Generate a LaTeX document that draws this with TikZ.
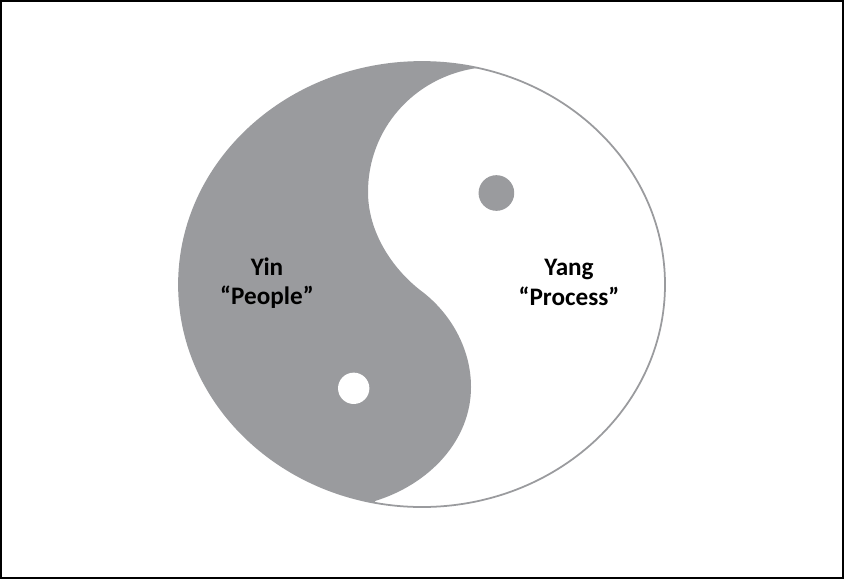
\documentclass[tikz,border=0pt]{standalone}
\usepackage{fontspec}
\setmainfont{Carlito}
\usetikzlibrary{calc}
\definecolor{yingray}{HTML}{9A9B9E}
\tikzset{
    yinlabel/.style={align=center,font=\fontsize{21.5pt}{25pt}\selectfont\bfseries,text=black},
    smalldot/.style={circle,inner sep=0pt,minimum size=#1}
}

\begin{document}
\begin{tikzpicture}[x=0.03cm,y=-0.03cm]

\useasboundingbox (0,0) rectangle (844,579);

% Outer frame.
\draw[black,line width=1.7pt]
    (1,1) rectangle (843,578);

% Points of the S curve.
\path
    (422,284.5) coordinate (DISC)
    (477,68) coordinate (STop)
    (368,192) coordinate (SLeft)
    (420,290) coordinate (SMid)
    (471,387) coordinate (SRight)
    (375,501) coordinate (SBot);

% Whole disc with its thin outline.
\draw[yingray,line width=1.5pt,fill=white]
    (DISC) ellipse [x radius=7.29cm,y radius=6.675cm];

% Dark half: clip to the disc, then fill left of the S curve.
\begin{scope}
    \clip (DISC) ellipse [x radius=7.29cm,y radius=6.675cm];
    \fill[yingray]
        (STop)
        .. controls (414,77) and (368,129) .. (SLeft)
        .. controls (368,232) and (392,268) .. (SMid)
        .. controls (450,312) and (471,348) .. (SRight)
        .. controls (471,440) and (430,484) .. (SBot)
        -- (SBot |- 0,540) -- (100,540) -- (100,30) -- (STop |- 0,30)
        -- cycle;
\end{scope}

% The two small dots.
\node (yangdot) [smalldot=1.07cm,fill=yingray] at (496.4,193) {};
\node (yindot) [smalldot=0.94cm,fill=white] at (353.7,388.3) {};

% Labels.
\node (yinlabel) [yinlabel] at (267,283) {Yin\\“People”};
\node (yanglabel) [yinlabel] at (569,282.5) {Yang\\“Process”};

\end{tikzpicture}
\end{document}
